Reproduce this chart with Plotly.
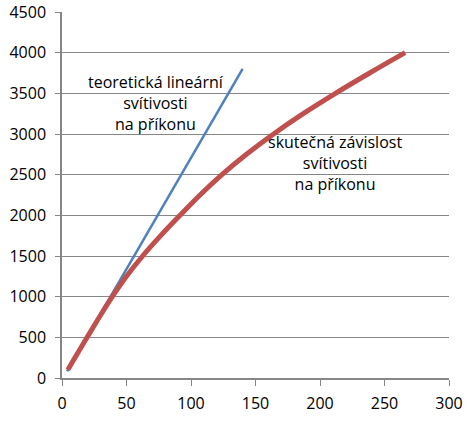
import plotly.graph_objects as go

# teoretická lineární závislost
teor_prikon = [4, 140]
teor_svitivost = [80, 3800]

# skutečná závislost
skut_svitivost = [100, 250, 500, 750, 1000, 1250, 1500, 1750, 2000,
                  2250, 2500, 2750, 3000, 3250, 3500, 3750, 4000]
skut_prikon = [4.5, 10, 19.5, 29, 39, 50, 62.5, 76.5, 91.5,
               107, 124, 143, 164, 187, 212, 238.5, 266]

fig = go.Figure()
fig.add_trace(go.Scatter(x=teor_prikon, y=teor_svitivost, mode="lines",
                         line=dict(color="#4F81BD", width=2.5)))
fig.add_trace(go.Scatter(x=skut_prikon, y=skut_svitivost, mode="lines",
                         line=dict(color="#C0504D", width=5, shape="spline", smoothing=1)))

fig.add_annotation(x=73, y=3380, text="teoretická lineární<br>svítivosti<br>na příkonu",
                   showarrow=False, font=dict(size=16, color="#000000"))
fig.add_annotation(x=212, y=2640, text="skutečná závislost<br>svítivosti<br>na příkonu",
                   showarrow=False, font=dict(size=16, color="#000000"))

fig.update_layout(
    width=474, height=424,
    margin=dict(l=62, r=25, t=12, b=46),
    plot_bgcolor="white", paper_bgcolor="white",
    showlegend=False,
    font=dict(family="Open Sans", size=16, color="#000000"),
)
fig.update_xaxes(range=[0, 300], dtick=50, showgrid=False, zeroline=False,
                 showline=True, linecolor="#868686", linewidth=1.5, automargin=False,
                 ticks="outside", tickcolor="#868686", ticklen=6,
                 ticklabelstandoff=4, ticklabeloverflow="allow")
fig.update_yaxes(range=[0, 4500], dtick=500, showgrid=True, gridcolor="#868686",
                 gridwidth=1.2, zeroline=False, automargin=False,
                 showline=True, linecolor="#868686", linewidth=1.5,
                 ticks="outside", tickcolor="#868686", ticklen=5,
                 ticklabelstandoff=6, ticklabeloverflow="allow")

# bez okraje stranky, aby graf sedel od leveho horniho rohu
fig.write_html("out.html", config={"displayModeBar": False},
               post_script="document.body.style.margin='0';")
